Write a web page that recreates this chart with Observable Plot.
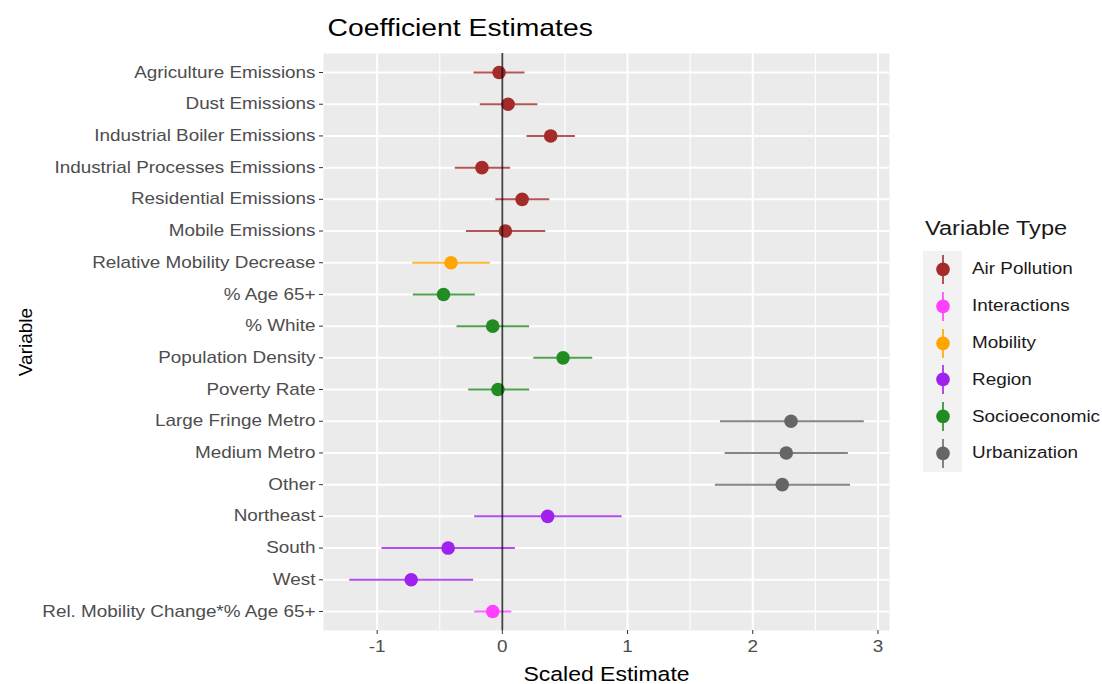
<!DOCTYPE html>
<html>
<head>
<meta charset="utf-8">
<script src="https://cdn.jsdelivr.net/npm/d3@7"></script>
<script src="https://cdn.jsdelivr.net/npm/@observablehq/plot@0.6"></script>
<style>
  html, body { margin: 0; padding: 0; background: white; }
  #wrap { position: relative; width: 1102px; height: 684px; font-family: "Liberation Sans", Arial, Helvetica, sans-serif; }
  #legend { position: absolute; left: 923px; top: 213px; }
  #legend .ttl { font-size: 20px; color: #1a1a1a; margin-left: 2px; height: 38px; line-height: 30px; transform: scaleX(1.18); transform-origin: left center; white-space: nowrap; }
  #legend .row { display: flex; align-items: center; height: 36.8px; }
  #legend .key { width: 39px; height: 36.8px; background: #F2F2F2; flex: none; }
  #legend .lab { font-size: 16px; color: #1a1a1a; margin-left: 10px; transform: scaleX(1.18); transform-origin: left center; white-space: nowrap; }
</style>
</head>
<body>
<div id="wrap"><div id="chart"></div><div id="legend"></div></div>
<script>
const categories = [
  "Agriculture Emissions", "Dust Emissions", "Industrial Boiler Emissions",
  "Industrial Processes Emissions", "Residential Emissions", "Mobile Emissions",
  "Relative Mobility Decrease", "% Age 65+", "% White", "Population Density",
  "Poverty Rate", "Large Fringe Metro", "Medium Metro", "Other",
  "Northeast", "South", "West", "Rel. Mobility Change*% Age 65+"
];
const types = [
  "Air Pollution", "Air Pollution", "Air Pollution", "Air Pollution", "Air Pollution", "Air Pollution",
  "Mobility", "Socioeconomic", "Socioeconomic", "Socioeconomic", "Socioeconomic",
  "Urbanization", "Urbanization", "Urbanization",
  "Region", "Region", "Region", "Interactions"
];
const estimates = [-0.026, 0.046, 0.386, -0.163, 0.158, 0.024, -0.41, -0.47, -0.077, 0.485, -0.035, 2.306, 2.268, 2.236, 0.362, -0.433, -0.728, -0.077];
const lower     = [-0.23, -0.18, 0.193, -0.38, -0.056, -0.29, -0.72, -0.715, -0.366, 0.247, -0.273, 1.738, 1.775, 1.698, -0.225, -0.966, -1.223, -0.225];
const upper     = [0.177, 0.28, 0.58, 0.062, 0.375, 0.343, -0.10, -0.22, 0.214, 0.718, 0.214, 2.887, 2.76, 2.777, 0.953, 0.10, -0.233, 0.072];

const typeNames  = ["Air Pollution", "Interactions", "Mobility", "Region", "Socioeconomic", "Urbanization"];
const typeColors = ["#A52A2A", "#FF40FF", "#FFA500", "#A020F0", "#228B22", "#666666"];

const majorTicks = [-1, 0, 1, 2, 3];
const minorTicks = [-0.5, 0.5, 1.5, 2.5];

const data = categories.map((c, i) => ({variable: c, type: types[i], est: estimates[i], lo: lower[i], hi: upper[i]}));

const ext = [d3.min(lower), d3.max(upper)];
const pad = (ext[1] - ext[0]) * 0.05;

const font = '"Liberation Sans", Arial, Helvetica, sans-serif';
const stretch = 1.18;

const chart = Plot.plot({
  width: 1102,
  height: 684,
  marginLeft: 323,
  marginRight: 213,
  marginTop: 53,
  marginBottom: 54,
  style: {fontFamily: font, fontSize: "16px", background: "white", overflow: "visible"},
  x: {domain: [ext[0] - pad, ext[1] + pad], label: null},
  y: {type: "point", domain: categories, padding: 0.6, round: false, label: null},
  color: {domain: typeNames, range: typeColors},
  marks: [
    Plot.frame({fill: "#EBEBEB", stroke: "none"}),
    Plot.ruleX(minorTicks, {stroke: "white", strokeWidth: 1.1}),
    Plot.ruleX(majorTicks, {stroke: "white", strokeWidth: 2}),
    Plot.ruleY(categories, {y: d => d, stroke: "white", strokeWidth: 2}),
    Plot.link(data, {x1: "lo", x2: "hi", y1: "variable", y2: "variable", stroke: "type", strokeWidth: 2, strokeOpacity: 0.8}),
    Plot.dot(data, {x: "est", y: "variable", fill: "type", r: 6.8}),
    Plot.ruleX([0], {stroke: "#111", strokeWidth: 1.8, strokeOpacity: 0.8}),
    Plot.axisX(majorTicks, {tickSize: 4, tickPadding: 6, stroke: "#333", fill: "#4D4D4D", fontSize: 16, label: null, tickFormat: d => String(d)}),
    Plot.axisY({tickSize: 4, tickPadding: 4, stroke: "#333", fill: "#4D4D4D", fontSize: 16, label: null}),
    Plot.text(["Scaled Estimate"], {frameAnchor: "bottom", lineAnchor: "middle", dy: 44, fontSize: 19.5, fill: "#000"}),
    Plot.text(["Variable"], {frameAnchor: "left", textAnchor: "middle", dx: -298, rotate: -90, fontSize: 19, fill: "#000"}),
    Plot.text(["Coefficient Estimates"], {frameAnchor: "top-left", lineAnchor: "middle", dx: 4, dy: -25, fontSize: 24, fill: "#000", textAnchor: "start"})
  ]
});
document.getElementById("chart").appendChild(chart);

// widen glyphs horizontally (reference text is rendered wider), about each text's anchor
d3.select(chart).selectAll("text").each(function () {
  const t = this.getAttribute("transform") || "";
  if (!t || t.includes("rotate")) return;
  this.setAttribute("transform", `${t} scale(${stretch},1)`);
});

// legend
const leg = d3.select("#legend");
leg.append("div").attr("class", "ttl").text("Variable Type");
typeNames.forEach((t, i) => {
  const row = leg.append("div").attr("class", "row");
  const svg = row.append("svg").attr("class", "key").attr("width", 39).attr("height", 36.8);
  svg.append("rect").attr("width", 39).attr("height", 36.8).attr("fill", "#F2F2F2");
  svg.append("line").attr("x1", 20).attr("x2", 20).attr("y1", 4).attr("y2", 33)
    .attr("stroke", typeColors[i]).attr("stroke-width", 2).attr("stroke-opacity", 0.8);
  svg.append("circle").attr("cx", 20).attr("cy", 18.4).attr("r", 6.8).attr("fill", typeColors[i]);
  row.append("div").attr("class", "lab").text(t);
});
</script>
</body>
</html>
